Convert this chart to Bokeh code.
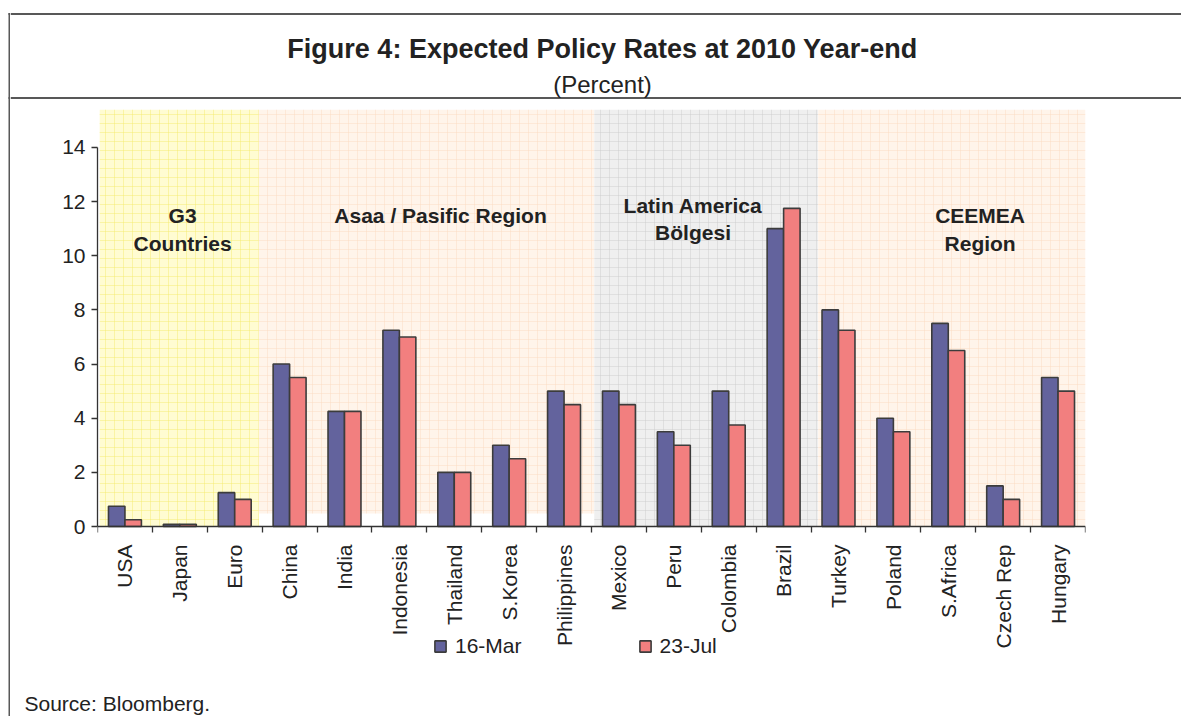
from bokeh.plotting import figure
from bokeh.layouts import column, row
from bokeh.models import (Range1d, FixedTicker, Legend, LegendItem,
                          ColumnDataSource)
from bokeh.transform import dodge
from bokeh.core.properties import value
from bokeh.embed import file_html
from bokeh.resources import INLINE

# ---------------- data ----------------
countries = ["USA", "Japan", "Euro", "China", "India", "Indonesia", "Thailand",
             "S.Korea", "Philippines", "Mexico", "Peru", "Colombia", "Brazil",
             "Turkey", "Poland", "S.Africa", "Czech Rep", "Hungary"]
mar16 = [0.75, 0.08, 1.25, 6.0, 4.25, 7.25, 2.0, 3.0, 5.0, 5.0, 3.5, 5.0, 11.0,
         8.0, 4.0, 7.5, 1.5, 5.5]
jul23 = [0.25, 0.08, 1.0, 5.5, 4.25, 7.0, 2.0, 2.5, 4.5, 4.5, 3.0, 3.75, 11.75,
         7.25, 3.5, 6.5, 1.0, 5.0]
series_names = ["16-Mar", "23-Jul"]
y_ticks = [0, 2, 4, 6, 8, 10, 12, 14]
region_names = [["G3", "Countries"], ["Asaa / Pasific Region"],
                ["Latin America", "Bölgesi"], ["CEEMEA", "Region"]]
title_text = "Figure 4: Expected Policy Rates at 2010 Year-end"
subtitle_text = "(Percent)"
source_text = "Source: Bloomberg."

FONT = "Liberation Sans"
BLUE = "#63639d"
RED = "#f27f7f"
TXT = "#222222"
LC = "#585858"

W, H = 1181, 716
STRIP = 10
HEAD_H = 109
FOOT_H = 36
MAIN_H = H - HEAD_H - FOOT_H          # main figure: page y 109 .. 680
PLOT_PX = 417                          # pixels from YMAX down to 0
YMAX = 15.4
PX_PER_UNIT = PLOT_PX / YMAX
YMIN = -(MAIN_H - PLOT_PX) / PX_PER_UNIT


def deco_fig(width, height, x0, x1, y0, y1):
    f = figure(width=width, height=height, output_backend="svg",
               toolbar_location=None, x_range=Range1d(x0, x1),
               y_range=Range1d(y1, y0), x_axis_location=None,
               y_axis_location=None, frame_align=False)
    f.min_border_left = f.min_border_right = 0
    f.min_border_top = f.min_border_bottom = 0
    f.outline_line_color = None
    f.xgrid.visible = False
    f.ygrid.visible = False
    return f


# ---------- left strip with the frame's left line ----------
strip = deco_fig(STRIP, H, 0, STRIP, 0, H)
strip.quad(left=[8, 8, 8], right=[10, 10, 10], top=[12.5, 96.5, 12.5],
           bottom=[14.5, 98.5, H], fill_color=LC, line_color=None)

# ---------- header with title ----------
head = deco_fig(W - STRIP, HEAD_H, STRIP, W, 0, HEAD_H)
head.quad(left=[STRIP, STRIP], right=[W, W], top=[12.5, 96.5],
          bottom=[14.5, 98.5], fill_color=LC, line_color=None)
head.text(x=[602], y=[48], text=[title_text], text_font=value(FONT),
          text_font_style="bold", text_font_size="27px", text_color=TXT,
          text_align="center", text_baseline="alphabetic")
head.text(x=[602], y=[84], text=[subtitle_text], text_font=value(FONT),
          text_font_size="24px", text_color=TXT,
          text_align="center", text_baseline="alphabetic")

# ---------- footer with source ----------
foot = deco_fig(W - STRIP, FOOT_H, STRIP, W, H - FOOT_H, H)
foot.text(x=[24], y=[703], text=[source_text], text_font=value(FONT),
          text_font_size="21px", text_color=TXT, text_align="left",
          text_baseline="alphabetic")

# ---------- main chart ----------
n = len(countries)
centers = [i + 0.5 for i in range(n)]
p = figure(width=W - STRIP, height=MAIN_H, output_backend="svg",
           toolbar_location=None, x_range=Range1d(0, n),
           y_range=Range1d(YMIN, YMAX), frame_align=False)
p.min_border_left = 97 - STRIP
p.min_border_right = W - 1085
p.min_border_top = 0
p.min_border_bottom = 0
p.outline_line_color = None
p.xgrid.visible = False
p.ygrid.visible = False

regions = [
    dict(left=0.04, right=2.94, bottom=0.0, fill="#fffcd2", hatch="#f3e860"),
    dict(left=2.94, right=9.05, bottom=0.48, fill="#fff4ea", hatch="#fad8bc"),
    dict(left=9.05, right=13.13, bottom=0.0, fill="#efefef", hatch="#c9c9c9"),
    dict(left=13.13, right=18.0, bottom=0.0, fill="#fff4ea", hatch="#fad8bc"),
]
for r in regions:
    p.quad(left=r["left"], right=r["right"], bottom=r["bottom"], top=YMAX,
           fill_color=r["fill"], line_color=None,
           hatch_pattern="+", hatch_color=r["hatch"], hatch_alpha=0.4,
           hatch_scale=9, hatch_weight=1)

src = ColumnDataSource(dict(x=centers, m=mar16, j=jul23))
bw = 0.3
r1 = p.vbar(x=dodge("x", -bw / 2, range=p.x_range), top="m", width=bw, bottom=0,
            source=src, fill_color=BLUE, line_color="#3c3c3c", line_width=1.6)
r2 = p.vbar(x=dodge("x", bw / 2, range=p.x_range), top="j", width=bw, bottom=0,
            source=src, fill_color=RED, line_color="#3c3c3c", line_width=1.6)

label_pos = [(1.55, [11.49, 10.45]), (6.25, [11.49]), (10.85, [11.86, 10.86]),
             (16.08, [11.49, 10.45])]
for (cx, ys), names in zip(label_pos, region_names):
    p.text(x=[cx] * len(names), y=ys, text=names, text_font=value(FONT),
           text_font_style="bold", text_font_size="21px", text_color=TXT,
           text_align="center", text_baseline="middle")

# x axis sits at y = 0 (fixed location); ticks at category boundaries
xa = p.xaxis[0]
xa.fixed_location = 0
xa.ticker = FixedTicker(ticks=centers, minor_ticks=list(range(n + 1)))
xa.major_label_overrides = {c: name for c, name in zip(centers, countries)}
xa.major_tick_out = 0
xa.major_tick_in = 0
xa.minor_tick_out = 6
xa.minor_tick_in = 0
xa.minor_tick_line_color = "#333333"
xa.minor_tick_line_width = 1.3
xa.major_label_orientation = 3.14159265 / 2
xa.major_label_standoff = 12
xa.major_label_text_font = FONT
xa.major_label_text_font_size = "21px"
xa.major_label_text_color = TXT
xa.axis_line_color = "#333333"
xa.axis_line_width = 1.3

ya = p.yaxis[0]
ya.ticker = FixedTicker(ticks=y_ticks)
ya.bounds = (0, 14)
ya.minor_tick_line_color = None
ya.major_tick_out = 6
ya.major_tick_in = 0
ya.major_tick_line_color = "#333333"
ya.major_tick_line_width = 1.3
ya.major_label_standoff = 6
ya.major_label_text_font = FONT
ya.major_label_text_font_size = "21px"
ya.major_label_text_color = TXT
ya.axis_line_color = "#333333"
ya.axis_line_width = 1.3

legend = Legend(items=[LegendItem(label=series_names[0], renderers=[r1]),
                       LegendItem(label=series_names[1], renderers=[r2])],
                orientation="horizontal", location=(336, 22),
                glyph_width=14, glyph_height=14, label_standoff=8, spacing=116,
                padding=0, margin=0, label_height=14,
                label_text_font=FONT, label_text_font_size="21px",
                label_text_color=TXT, background_fill_alpha=0,
                border_line_color=None)
p.add_layout(legend, "center")

layout = row(strip, column(head, p, foot))
open("out.html", "w").write(file_html(layout, INLINE))
